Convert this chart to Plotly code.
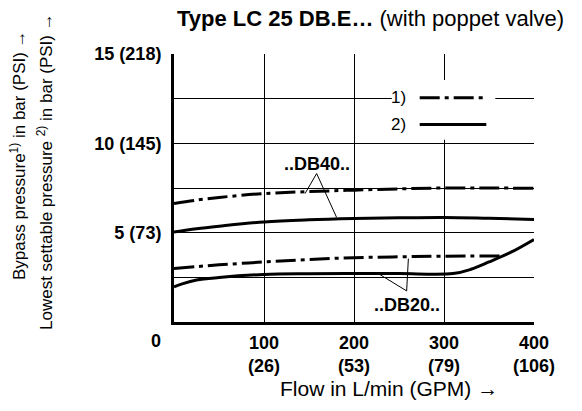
import plotly.graph_objects as go

# ---- data ----
flow = [0, 25, 50, 100, 150, 200, 250, 300, 350, 400]
db40_bypass = [6.63, 6.82, 6.97, 7.19, 7.30, 7.38, 7.45, 7.50, 7.50, 7.48]
db40_lowest = [5.04, 5.22, 5.36, 5.60, 5.72, 5.79, 5.83, 5.85, 5.80, 5.74]

flow_db20_bypass = [0, 25, 50, 100, 150, 200, 250, 300, 362]
db20_bypass = [2.99, 3.10, 3.20, 3.36, 3.50, 3.60, 3.65, 3.68, 3.70]

flow_db20_lowest = [0, 10, 25, 50, 100, 150, 200, 250, 310, 330, 350, 375, 400]
db20_lowest = [1.96, 2.15, 2.35, 2.49, 2.66, 2.70, 2.71, 2.71, 2.71, 2.95, 3.36, 3.92, 4.62]

x_tickvals = [100, 200, 300, 400]
x_ticktext = ["100<br>(26)", "200<br>(53)", "300<br>(79)", "400<br>(106)"]
y_tickvals = [5, 10, 15]
y_ticktext = ["5 (73)", "10 (145)", "15 (218)"]

# leader lines for curve labels
db40_leader_x = [145.6, 158.5, 180.7]
db40_leader_y = [7.19, 8.31, 5.85]
db20_leader_x = [227.0, 258.5, 260.4]
db20_leader_y = [2.71, 1.74, 3.55]

# legend samples
legend_x = [273, 347]
legend1_y = 12.55
legend2_y = 11.05

FONT = "Liberation Sans, Arial, Helvetica, sans-serif"
DASHDOT = "20px,5px,4px,5px"

# page geometry (body margin removed via post_script)
OFF = 0
PL, PR, PT, PB = 174, 534, 54, 322   # plot area in page pixels
W, H = 582, 411


def px(xp):
    return (xp - PL) / (PR - PL)


def py(yp):
    return (PB - yp) / (PB - PT)


fig = go.Figure()

curve_w = 3
fig.add_trace(go.Scatter(x=flow, y=db40_bypass, mode="lines", line=dict(color="black", width=curve_w, dash=DASHDOT, shape="spline"), hoverinfo="skip"))
fig.add_trace(go.Scatter(x=flow, y=db40_lowest, mode="lines", line=dict(color="black", width=curve_w, shape="spline"), hoverinfo="skip"))
fig.add_trace(go.Scatter(x=flow_db20_bypass, y=db20_bypass, mode="lines", line=dict(color="black", width=curve_w, dash=DASHDOT, shape="spline"), hoverinfo="skip"))
fig.add_trace(go.Scatter(x=flow_db20_lowest, y=db20_lowest, mode="lines", line=dict(color="black", width=curve_w, shape="spline"), hoverinfo="skip"))

# leader lines
fig.add_trace(go.Scatter(x=db40_leader_x, y=db40_leader_y, mode="lines", line=dict(color="black", width=1), hoverinfo="skip"))
fig.add_trace(go.Scatter(x=db20_leader_x, y=db20_leader_y, mode="lines", line=dict(color="black", width=1), hoverinfo="skip"))

# legend samples
fig.add_trace(go.Scatter(x=legend_x, y=[legend1_y, legend1_y], mode="lines", line=dict(color="black", width=curve_w, dash=DASHDOT), hoverinfo="skip"))
fig.add_trace(go.Scatter(x=legend_x, y=[legend2_y, legend2_y], mode="lines", line=dict(color="black", width=curve_w), hoverinfo="skip"))

# white box behind legend (breaks grid lines)
fig.add_shape(type="rect", x0=242, x1=357, y0=10.2, y1=13.55, xref="x", yref="y",
              fillcolor="white", line=dict(width=0), layer="between")


def text(x, y, s, size, xref="paper", yref="paper", xanchor="center", angle=0):
    return dict(x=x, y=y, xref=xref, yref=yref, text=s, showarrow=False,
                xanchor=xanchor, yanchor="middle", textangle=angle,
                font=dict(family=FONT, size=size, color="black"))


ann = [
    text(260, legend1_y, "1)", 17, "x", "y", "right"),
    text(260, legend2_y, "2)", 17, "x", "y", "right"),
    text(158.5, 8.87, "<b>..DB40..</b>", 18, "x", "y"),
    text(258.5, 0.94, "<b>..DB20..</b>", 18, "x", "y"),
    text(px(156), py(341), "<b>0</b>", 18),
    text(px(175), py(19), "<b>Type LC 25 DB.E…</b> (with poppet valve)", 22, xanchor="left"),
    text(px(389), py(388), "Flow in L/min (GPM) →", 21),
    text(px(18), py(155), "Bypass pressure<sup>1)</sup> in bar (PSI) →", 17, angle=-90),
    text(px(45), py(172), "Lowest settable pressure <sup>2)</sup> in bar (PSI) →", 17, angle=-90),
]

fig.update_layout(
    width=W, height=H,
    margin=dict(l=PL - OFF, r=W - (PR - OFF), t=PT - OFF, b=H - (PB - OFF), autoexpand=False),
    paper_bgcolor="white", plot_bgcolor="white",
    showlegend=False,
    annotations=ann,
    font=dict(family=FONT, color="black"),
)
fig.update_xaxes(range=[0, 400], tickvals=x_tickvals, ticktext=x_ticktext,
                 tickfont=dict(family=FONT, size=18, color="black", weight="bold"),
                 showgrid=True, gridcolor="black", gridwidth=1,
                 showline=True, linecolor="black", linewidth=3, ticks="", zeroline=False,
                 ticklabelstandoff=2, fixedrange=True)
fig.update_yaxes(range=[0, 15], tickvals=y_tickvals, ticktext=y_ticktext,
                 tickfont=dict(family=FONT, size=18, color="black", weight="bold"),
                 showgrid=True, gridcolor="black", gridwidth=1,
                 minor=dict(tick0=0, dtick=2.5, showgrid=True, gridcolor="black", gridwidth=1),
                 showline=True, linecolor="black", linewidth=3, ticks="", zeroline=False,
                 ticklabelstandoff=6, fixedrange=True)

fig.write_html("out.html", config={"displayModeBar": False},
               post_script="document.body.style.margin='0';document.body.style.overflow='hidden';")
